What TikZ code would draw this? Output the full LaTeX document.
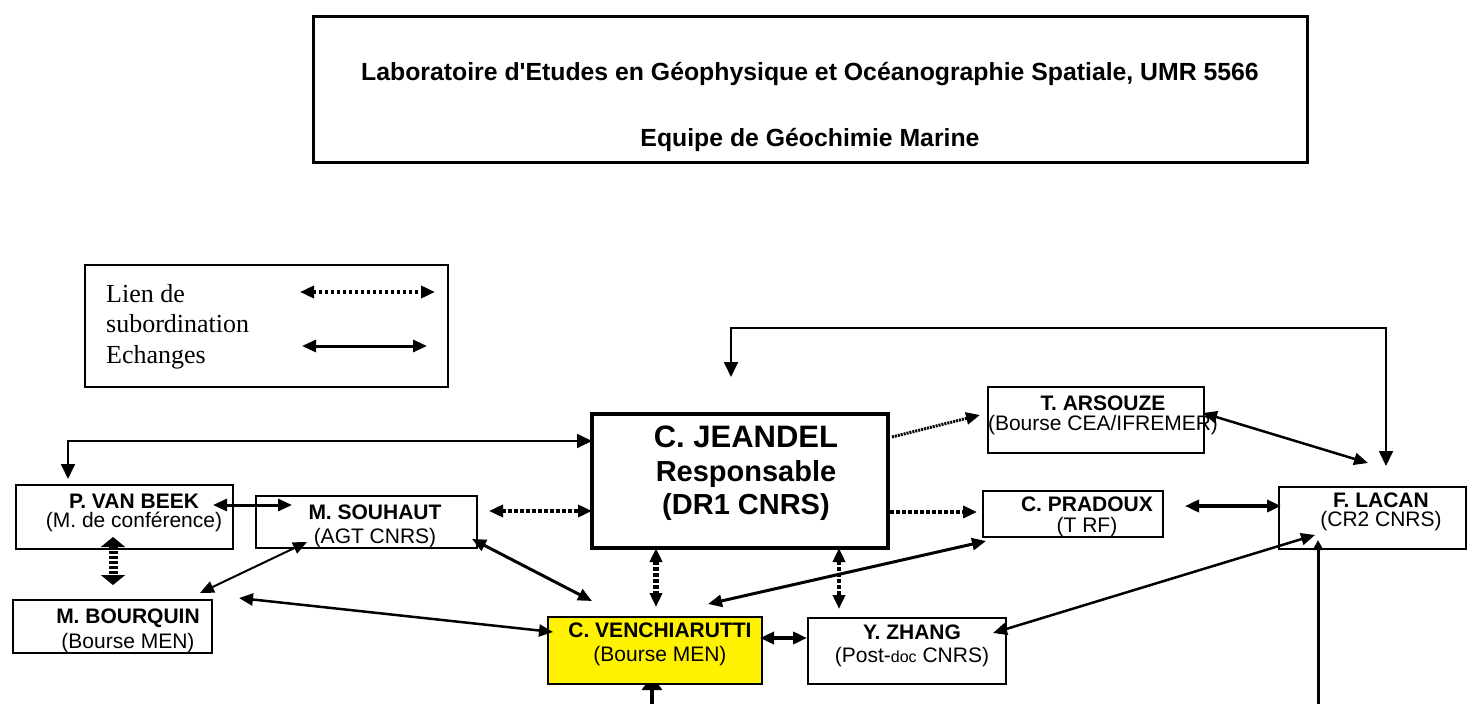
\documentclass[tikz,border=0pt]{standalone}
\usepackage{fontspec}
\setmainfont{Liberation Sans}
\newfontfamily\brut{Liberation Sans}
\newfontfamily\legendfont{Liberation Serif}
\usetikzlibrary{arrows.meta, calc, backgrounds}

\begin{document}
\begin{tikzpicture}[x=1pt, y=-1pt, >={Triangle[length=14pt, width=12pt]},
  cadre/.style={draw, line width=1.5pt, inner sep=0pt, outer sep=0pt},
  nom/.style={align=center, inner sep=0pt, font=\fontsize{21}{#1}\selectfont},
  nom/.default=21,
  echange/.style={<->, line width=3pt},
  lien/.style={<->, line width=4.5pt, dash pattern=on 4pt off 2pt}]
  \useasboundingbox (0,0) rectangle (1468,704);

  % titre
  \node [cadre, line width=3pt, minimum width=994, minimum height=146] (titre) at (810,89) {};
  \node [align=center, inner sep=0pt, font=\brut\bfseries\fontsize{24.8}{66}\selectfont] (titre-txt) at (810,107)
  {Laboratoire d'Etudes en Géophysique et Océanographie Spatiale, UMR 5566\\Equipe de Géochimie Marine};

  % legende
  \node [cadre, minimum width=363, minimum height=122] (legende) at (266.5,326) {};
  \node [anchor=north west, align=left, inner sep=0pt, font=\legendfont\fontsize{26}{30.5}\selectfont] (legende-txt) at (106,284)
  {Lien de\\subordination\\Echanges};
  \coordinate (lienG) at (300,292);
  \coordinate (lienD) at (435,292);
  \coordinate (echG) at (302,346);
  \coordinate (echD) at (427,346);
  \draw [lien, line width=4pt, dash pattern=on 3pt off 3pt] (lienG) -- (lienD);
  \draw [echange] (echG) -- (echD);

  % responsable
  \node [cadre, line width=4.5pt, minimum width=296, minimum height=134] (jeandel) at (740,481) {};
  \node [align=center, inner sep=0pt, font=\bfseries\fontsize{29}{33.5}\selectfont] (jeandel-txt) at (746,473.5)
  {{\fontsize{31}{33.5}\selectfont C. JEANDEL}\\Responsable\\(DR1 CNRS)};

  % membres
  \node [cadre, minimum width=217, minimum height=64] (vanbeek) at (124.5,517) {};
  \node [nom=19] (vanbeek-txt) at (134,512.5) {\textbf{P. VAN BEEK}\\(M. de conférence)};
  \node [cadre, minimum width=221, minimum height=52] (souhaut) at (366.5,522) {};
  \node [nom=24] (souhaut-txt) at (375,526) {\textbf{M. SOUHAUT}\\(AGT CNRS)};
  \node [cadre, minimum width=199, minimum height=53] (bourquin) at (112.5,626.5) {};
  \node [nom=25] (bourquin-txt) at (128,630.5) {\textbf{M. BOURQUIN}\\(Bourse MEN)};
  \node [cadre, fill=yellow, minimum width=214, minimum height=67] (vench) at (655,650.5) {};
  \node [nom=24] (vench-txt) at (660,644) {\textbf{C. VENCHIARUTTI}\\(Bourse MEN)};
  \node [cadre, minimum width=198, minimum height=66] (zhang) at (907,651) {};
  \node [nom=23] (zhang-txt) at (912,645.5) {\textbf{Y. ZHANG}\\(Post-{\fontsize{16}{23}\selectfont doc} CNRS)};
  \node [cadre, minimum width=216, minimum height=66] (arsouze) at (1096,420) {};
  \node [nom=20] (arsouze-txt) at (1103,415) {\textbf{T. ARSOUZE}\\(Bourse CEA/IFREMER)};
  \node [cadre, minimum width=180, minimum height=46] (pradoux) at (1073,514) {};
  \node [nom=21] (pradoux-txt) at (1087,516.5) {\textbf{C. PRADOUX}\\(T RF)};
  \node [cadre, minimum width=187, minimum height=62] (lacan) at (1372.5,518) {};
  \node [nom=19] (lacan-txt) at (1381,511.5) {\textbf{F. LACAN}\\(CR2 CNRS)};

  % boucles
  \draw [<->, line width=1.8pt, >={Triangle[length=15pt, width=14pt]}]
    ($(jeandel.north)+(-9,-37)$) -- ++(0,-49) -| ($(lacan.north)+(13.5,-21)$);
  \draw [<->, line width=1.8pt, >={Triangle[length=15pt, width=14pt]}]
    ($(vanbeek.north)+(-56.5,-6)$) |- ($(jeandel.west)+(0,-40)$);

  % echanges
  \draw [echange] ($(vanbeek.east)+(-20,-12)$) -- ($(souhaut.west)+(36,-17)$);
  \draw [echange, line width=2pt] ($(bourquin.north east)+(-12,-7)$) -- ($(souhaut.south west)+(51,-6)$);
  \draw [echange, line width=2.5pt] ($(bourquin.north east)+(27,-2)$) -- ($(vench.west)+(5,-18.5)$);
  \draw [echange] ($(souhaut.south east)+(-5,-9)$) -- ($(vench.north west)+(44,-16)$);
  \draw [echange] ($(vench.north)+(53,-13)$) -- ($(pradoux.south west)+(3,4)$);
  \draw [echange, line width=4pt] ($(vench.east)+(-2,-12.5)$) -- ($(zhang.west)+(-1,-13)$);
  \draw [echange, line width=2.5pt] ($(zhang.east)+(-13,-18)$) -- ($(lacan.south west)+(36,-14)$);
  \draw [echange, line width=4pt] ($(pradoux.east)+(22,-8)$) -- ($(lacan.west)+(2,-12)$);
  \draw [echange, line width=2.5pt] ($(arsouze.east)+(-1,-7)$) -- ($(lacan.north)+(-4.5,-24)$);

  % liens de subordination
  \draw [lien, line width=9pt, dash pattern=on 3pt off 2pt, >={Triangle[length=10pt, width=24pt]}]
    ($(vanbeek.south)+(-11.5,-12)$) -- ($(bourquin.north)+(0.5,-15)$);
  \draw [lien] ($(souhaut.east)+(12,-11)$) -- ($(jeandel.west)+(0,30)$);
  \draw [lien, line width=6pt] ($(jeandel.south)+(-84,0)$) -- ($(vench.north)+(1,-10)$);
  \draw [lien, line width=4pt] ($(jeandel.south)+(99,0)$) -- ($(zhang.north)+(-68,-9)$);
  \draw [lien, ->, line width=3pt, dash pattern=on 2pt off 1pt] ($(jeandel.north east)+(4,23)$) -- ($(arsouze.west)+(-8,-5)$);
  \draw [lien, ->] ($(jeandel.east)+(2,31)$) -- ($(pradoux.west)+(-6,-2)$);

  % arrivees du bas
  \coordinate (basV) at (652,712);
  \coordinate (basL) at (1318,712);
  \begin{scope}[on background layer]
    \draw [->, line width=3.5pt, >={Triangle[length=14pt, width=20pt]}] (basV) -- ($(vench.south)+(-3,-8)$);
  \end{scope}
  \draw [->, line width=3pt, >={Triangle[length=10pt, width=10pt]}] (basL) -- ($(lacan.south west)+(39,-9)$);
\end{tikzpicture}
\end{document}
